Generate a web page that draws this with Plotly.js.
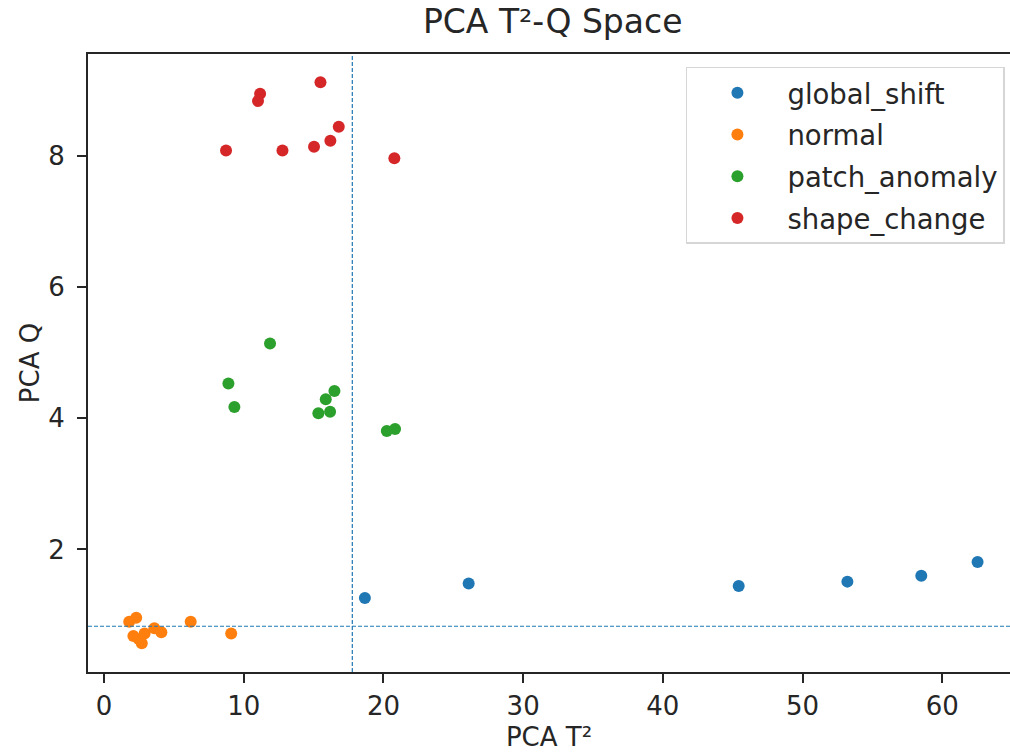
<!DOCTYPE html>
<html>
<head>
<meta charset="utf-8">
<script src="https://cdn.plot.ly/plotly-3.0.1.min.js"></script>
<style>html,body{margin:0;padding:0;background:#fff;}#chart{width:1010px;height:756px;}</style>
</head>
<body>
<div id="chart"></div>
<script>
const seriesNames = ['global_shift', 'normal', 'patch_anomaly', 'shape_change'];
const seriesColors = ['#1f77b4', '#ff7f0e', '#2ca02c', '#d62728'];

const globalShiftT2 = [18.67, 26.10, 45.43, 53.21, 58.50, 62.53];
const globalShiftQ  = [1.26, 1.48, 1.445, 1.51, 1.60, 1.81];

const normalT2 = [1.8, 2.3, 2.1, 2.7, 2.9, 3.6, 4.1, 6.2, 9.1, 2.5];
const normalQ  = [0.90, 0.96, 0.68, 0.57, 0.72, 0.80, 0.74, 0.90, 0.72, 0.63];

const patchT2 = [11.88, 8.90, 9.33, 16.49, 15.87, 16.18, 15.34, 20.83, 20.24];
const patchQ  = [5.14, 4.53, 4.17, 4.415, 4.29, 4.10, 4.075, 3.836, 3.806];

const shapeT2 = [8.73, 11.17, 11.02, 15.49, 12.77, 15.03, 16.20, 16.80, 20.78];
const shapeQ  = [8.08, 8.946, 8.834, 9.118, 8.08, 8.137, 8.229, 8.442, 7.96];

const t2Threshold = 17.77;
const qThreshold = 0.83;

const xs = [globalShiftT2, normalT2, patchT2, shapeT2];
const ys = [globalShiftQ, normalQ, patchQ, shapeQ];

const traces = seriesNames.map((n, i) => ({
  type: 'scatter', mode: 'markers', name: n, legendgroup: n,
  x: xs[i], y: ys[i],
  marker: {color: seriesColors[i], size: 12, line: {width: 0}},
  cliponaxis: false
}));

const layout = {
  width: 1010, height: 756,
  margin: {l: 88, r: 0, t: 54, b: 84},
  paper_bgcolor: '#fff', plot_bgcolor: '#fff',
  font: {family: 'DejaVu Sans', color: '#262626', size: 26},
  title: {text: 'PCA T²-Q Space', font: {family: 'DejaVu Sans', size: 33, color: '#262626'},
          xref: 'paper', x: 0.504, xanchor: 'center', y: 0.987, yanchor: 'top'},
  xaxis: {
    range: [-1.15, 64.85], showgrid: false, zeroline: false,
    showline: true, linecolor: '#262626', linewidth: 2, mirror: true,
    ticks: 'outside', ticklen: 9, tickwidth: 2, tickcolor: '#262626',
    tickvals: [0, 10, 20, 30, 40, 50, 60], ticklabelstandoff: 1,
    tickfont: {size: 26, family: 'DejaVu Sans', color: '#262626'},
    title: {text: 'PCA T²', font: {size: 26, family: 'DejaVu Sans', color: '#262626'}, standoff: 8}
  },
  yaxis: {
    range: [0.133, 9.55], showgrid: false, zeroline: false,
    showline: true, linecolor: '#262626', linewidth: 2, mirror: false,
    ticks: 'outside', ticklen: 9, tickwidth: 2, tickcolor: '#262626',
    tickvals: [2, 4, 6, 8], ticklabelstandoff: 7,
    tickfont: {size: 26, family: 'DejaVu Sans', color: '#262626'},
    title: {text: 'PCA Q', font: {size: 26, family: 'DejaVu Sans', color: '#262626'}, standoff: 1}
  },
  shapes: [
    {type: 'line', xref: 'x', yref: 'paper', x0: t2Threshold, x1: t2Threshold, y0: 0, y1: 1,
     line: {color: '#1f77b4', width: 1.2, dash: '4px,2px'}, layer: 'above'},
    {type: 'line', xref: 'paper', yref: 'y', x0: 0, x1: 1, y0: qThreshold, y1: qThreshold,
     line: {color: '#1f77b4', width: 1.2, dash: '4px,2px'}, layer: 'above'}
  ],
  legend: {
    x: 0.9945, xanchor: 'right', y: 0.979, yanchor: 'top',
    bgcolor: 'rgba(255,255,255,0.8)', bordercolor: '#d6d6d6', borderwidth: 1.5,
    font: {size: 27.5, family: 'DejaVu Sans', color: '#262626'},
    itemwidth: 90, tracegroupgap: 3
  },
  showlegend: true
};

Plotly.newPlot('chart', traces, layout, {displayModeBar: false, staticPlot: true});
</script>
</body>
</html>
